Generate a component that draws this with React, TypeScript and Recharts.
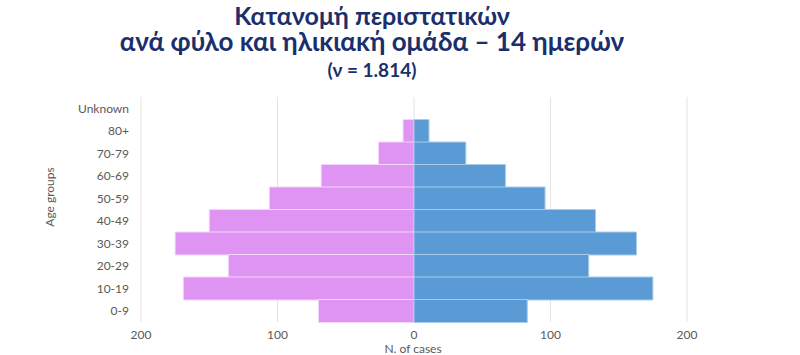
import React from 'react';
import { BarChart, Bar, XAxis, YAxis, CartesianGrid } from 'recharts';

const ageGroups = ['Unknown', '80+', '70-79', '60-69', '50-59', '40-49', '30-39', '20-29', '10-19', '0-9'];
const female = [0, 8, 26, 68, 106, 150, 175, 136, 169, 70];
const male = [0, 11, 38, 67, 96, 133, 163, 128, 175, 83];
const xTicks = [-200, -100, 0, 100, 200];

const titleLine1 = 'Κατανομή περιστατικών';
const titleLine2 = 'ανά φύλο και ηλικιακή ομάδα – 14 ημερών';
const titleLine3 = '(ν = 1.814)';
const xAxisTitle = 'N. of cases';
const yAxisTitle = 'Age groups';

const data = ageGroups.map((g, i) => ({ age: g, female: -female[i], male: male[i] }));

const FONT = 'Lato, "Open Sans", sans-serif';
const TICK = { fill: '#595959', fontSize: 12, fontFamily: FONT };
const NAVY = '#1a2f6b';

export default function App() {
  return (
    <div style={{ position: 'absolute', left: 0, top: 0, width: 800, height: 355, background: '#fff' }}>
      <BarChart
        width={800}
        height={355}
        data={data}
        layout="vertical"
        margin={{ top: 97, right: 113, bottom: 2, left: 61 }}
        barCategoryGap={0}
        stackOffset="sign"
      >
        <CartesianGrid horizontal={false} stroke="#e3e3e3" />
        <XAxis
          type="number"
          domain={[-200, 200]}
          ticks={xTicks}
          tickFormatter={(v: number) => String(Math.abs(v))}
          axisLine={false}
          tickLine={false}
          tick={TICK}
          height={31}
          interval={0}
        />
        <YAxis
          type="category"
          dataKey="age"
          width={80}
          axisLine={false}
          tickLine={false}
          tick={TICK}
          tickMargin={6}
          interval={0}
        />
        <Bar dataKey="female" stackId="a" fill="#df93f2" stroke="#f3d6fa" strokeWidth={1} isAnimationActive={false} />
        <Bar dataKey="male" stackId="a" fill="#5b9bd5" stroke="#a9cbec" strokeWidth={1} isAnimationActive={false} />
      </BarChart>
      <svg width={800} height={355} style={{ position: 'absolute', left: 0, top: 0, pointerEvents: 'none' }}>
        <text x={372} y={24.5} textAnchor="middle" fontFamily={FONT} fontWeight="bold" fontSize={25} fill={NAVY}>
          {titleLine1}
        </text>
        <text x={372} y={51} textAnchor="middle" fontFamily={FONT} fontWeight="bold" fontSize={26} fill={NAVY}>
          {titleLine2}
        </text>
        <text x={372} y={76.5} textAnchor="middle" fontFamily={FONT} fontWeight="bold" fontSize={19} fill={NAVY}>
          {titleLine3}
        </text>
        <text x={413} y={353} textAnchor="middle" fontFamily={FONT} fontSize={12} fill="#595959">
          {xAxisTitle}
        </text>
        <text
          x={49}
          y={197}
          textAnchor="middle"
          dominantBaseline="central"
          transform="rotate(-90 49 197)"
          fontFamily={FONT}
          fontSize={12}
          fill="#595959"
        >
          {yAxisTitle}
        </text>
      </svg>
    </div>
  );
}
